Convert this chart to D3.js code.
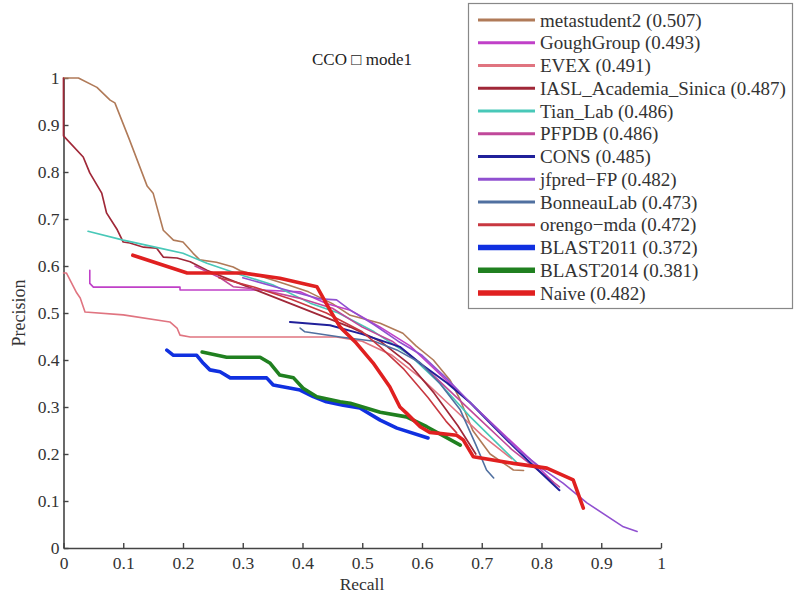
<!DOCTYPE html>
<html><head><meta charset="utf-8">
<script src="https://cdn.jsdelivr.net/npm/d3@7"></script>
<style>body{margin:0;background:#fff}svg{display:block}</style>
</head><body>
<svg id="c" width="794" height="593"></svg>
<script>
const xTicks = [0,0.1,0.2,0.3,0.4,0.5,0.6,0.7,0.8,0.9,1];
const yTicks = [0,0.1,0.2,0.3,0.4,0.5,0.6,0.7,0.8,0.9,1];
const seriesNames = ["metastudent2 (0.507)","GoughGroup (0.493)","EVEX (0.491)","IASL_Academia_Sinica (0.487)","Tian_Lab (0.486)","PFPDB (0.486)","CONS (0.485)","jfpred\u2212FP (0.482)","BonneauLab (0.473)","orengo\u2212mda (0.472)","BLAST2011 (0.372)","BLAST2014 (0.381)","Naive (0.482)"];
const seriesColors = ["#b07a58","#c040c8","#e07480","#a02838","#48c8b8","#c0489a","#20209a","#9050d0","#5070a0","#c83840","#1030e0","#208020","#e02020"];
const seriesWidths = [1.6,1.6,1.6,1.7,1.6,1.6,2,1.6,1.6,1.6,3.6,3.6,3.6];

const metastudent2 = [[0,1],[0.025,1],[0.056,0.98],[0.078,0.953],[0.086,0.947],[0.11,0.87],[0.14,0.77],[0.15,0.755],[0.167,0.676],[0.184,0.655],[0.2,0.651],[0.217,0.627],[0.228,0.613],[0.256,0.608],[0.284,0.598],[0.296,0.59],[0.33,0.578],[0.37,0.562],[0.41,0.545],[0.45,0.52],[0.48,0.495],[0.53,0.478],[0.568,0.457],[0.59,0.43],[0.619,0.40],[0.647,0.357],[0.664,0.315],[0.685,0.25],[0.714,0.20],[0.753,0.166],[0.77,0.165]];
const goughGroup = [[0.044,0.591],[0.044,0.563],[0.05,0.555],[0.195,0.555],[0.195,0.549],[0.33,0.549],[0.396,0.545],[0.44,0.52],[0.48,0.506],[0.53,0.47],[0.58,0.43],[0.63,0.37],[0.68,0.31],[0.73,0.25],[0.78,0.19],[0.82,0.14]];
const evex = [[0,0.585],[0.005,0.585],[0.022,0.543],[0.028,0.532],[0.036,0.502],[0.1,0.496],[0.178,0.481],[0.19,0.468],[0.195,0.453],[0.212,0.449],[0.457,0.449],[0.5,0.44],[0.55,0.41],[0.6,0.36],[0.65,0.3],[0.7,0.24],[0.75,0.19]];
const iasl = [[0,1],[0,0.877],[0.033,0.832],[0.044,0.798],[0.064,0.755],[0.072,0.713],[0.09,0.677],[0.1,0.651],[0.111,0.649],[0.134,0.64],[0.156,0.638],[0.167,0.619],[0.19,0.617],[0.212,0.609],[0.24,0.591],[0.28,0.57],[0.33,0.545],[0.38,0.52],[0.43,0.495],[0.48,0.47],[0.53,0.44],[0.58,0.39],[0.62,0.33],[0.66,0.26],[0.69,0.2]];
const tianLab = [[0.041,0.674],[0.1,0.655],[0.161,0.638],[0.2,0.627],[0.24,0.606],[0.3,0.58],[0.35,0.56],[0.413,0.521],[0.46,0.5],[0.52,0.46],[0.58,0.41],[0.63,0.35],[0.68,0.28],[0.72,0.23],[0.76,0.18]];
const pfpdb = [[0.22,0.6],[0.262,0.575],[0.284,0.556],[0.33,0.55],[0.4,0.53],[0.45,0.51],[0.5,0.47],[0.55,0.44],[0.6,0.39],[0.65,0.33],[0.7,0.27],[0.75,0.21],[0.8,0.16],[0.83,0.13]];
const cons = [[0.379,0.481],[0.446,0.474],[0.5,0.455],[0.563,0.428],[0.6,0.39],[0.642,0.351],[0.68,0.31],[0.714,0.266],[0.75,0.22],[0.78,0.183],[0.83,0.123]];
const jfpred = [[0.3,0.575],[0.37,0.55],[0.43,0.53],[0.457,0.528],[0.48,0.506],[0.52,0.475],[0.56,0.44],[0.6,0.41],[0.642,0.36],[0.68,0.31],[0.72,0.26],[0.76,0.21],[0.8,0.17],[0.836,0.138],[0.876,0.096],[0.937,0.045],[0.96,0.035]];
const bonneauLab = [[0.396,0.468],[0.404,0.46],[0.463,0.449],[0.52,0.44],[0.56,0.42],[0.597,0.394],[0.63,0.35],[0.664,0.294],[0.69,0.22],[0.708,0.166],[0.72,0.149]];
const orengo = [[0.26,0.575],[0.32,0.555],[0.38,0.53],[0.44,0.50],[0.5,0.46],[0.53,0.428],[0.57,0.38],[0.61,0.32],[0.64,0.27],[0.658,0.245]];
const blast2011 = [[0.173,0.421],[0.184,0.41],[0.223,0.41],[0.234,0.393],[0.245,0.379],[0.262,0.375],[0.279,0.362],[0.34,0.362],[0.351,0.347],[0.396,0.336],[0.418,0.322],[0.44,0.311],[0.468,0.304],[0.496,0.298],[0.53,0.272],[0.558,0.255],[0.61,0.234]];
const blast2014 = [[0.232,0.417],[0.273,0.406],[0.329,0.406],[0.346,0.393],[0.362,0.368],[0.385,0.362],[0.401,0.34],[0.424,0.322],[0.463,0.311],[0.48,0.308],[0.53,0.289],[0.574,0.279],[0.608,0.258],[0.664,0.219]];
const naive = [[0.116,0.623],[0.207,0.585],[0.3,0.585],[0.362,0.574],[0.424,0.556],[0.446,0.506],[0.463,0.47],[0.49,0.436],[0.518,0.394],[0.546,0.343],[0.563,0.30],[0.574,0.287],[0.597,0.258],[0.613,0.246],[0.658,0.24],[0.669,0.23],[0.686,0.194],[0.753,0.18],[0.809,0.17],[0.853,0.145],[0.87,0.085]];

const seriesData = [metastudent2,goughGroup,evex,iasl,tianLab,pfpdb,cons,jfpred,bonneauLab,orengo,blast2011,blast2014,naive];

const svg = d3.select("#c");
const font = "Liberation Serif, Times New Roman, serif";
const x = d3.scaleLinear().domain([0,1]).range([63.5,661]);
const y = d3.scaleLinear().domain([0,1]).range([548,78]);

// title
svg.append("text").attr("x",362).attr("y",65).attr("text-anchor","middle")
  .style("font-family",font).style("font-size","17px").attr("fill","#222").text("CCO \u25A1 mode1");

// axes
const xAxis = d3.axisBottom(x).tickValues(xTicks).tickSizeInner(-5).tickSizeOuter(0).tickPadding(9).tickFormat(d=>d3.format("~g")(d));
const yAxis = d3.axisLeft(y).tickValues(yTicks).tickSizeInner(-5).tickSizeOuter(0).tickPadding(4).tickFormat(d=>d3.format("~g")(d));
const gx = svg.append("g").attr("transform","translate(0,548)").call(xAxis);
const gy = svg.append("g").attr("transform","translate(63.5,0)").call(yAxis);
[gx,gy].forEach(g=>{
  g.attr("font-family",null).attr("font-size",null);
  g.select(".domain").attr("stroke","#444").attr("stroke-width",1.6);
  g.selectAll(".tick line").attr("stroke","#444").attr("stroke-width",1.4);
  g.selectAll("text").style("font-family",font).style("font-size","17.5px").attr("fill","#333");
});

svg.append("text").attr("x",362).attr("y",590).attr("text-anchor","middle")
  .style("font-family",font).style("font-size","17.5px").attr("fill","#333").text("Recall");
svg.append("text").attr("transform","translate(25,313) rotate(-90)").attr("text-anchor","middle")
  .style("font-family",font).style("font-size","18px").attr("fill","#333").text("Precision");

// lines
const line = d3.line().x(d=>x(d[0])).y(d=>y(d[1]));
seriesData.forEach((s,i)=>{
  svg.append("path").datum(s).attr("d",line).attr("fill","none")
    .attr("stroke",seriesColors[i]).attr("stroke-width",seriesWidths[i])
    .attr("stroke-linejoin","round").attr("stroke-linecap","round");
});

// legend
const lg = svg.append("g");
lg.append("rect").attr("x",468.5).attr("y",3.5).attr("width",324).attr("height",305)
  .attr("fill","#fff").attr("stroke","#888").attr("stroke-width",1.2);
seriesNames.forEach((n,i)=>{
  const yy = 20 + i*22.75;
  lg.append("line").attr("x1",478).attr("x2",535).attr("y1",yy).attr("y2",yy)
    .attr("stroke",seriesColors[i]).attr("stroke-width",seriesWidths[i]>3?5.5:3);
  lg.append("text").attr("x",540).attr("y",yy+6.5).style("font-family",font)
    .style("font-size","19px").attr("fill","#333").text(n);
});
</script>
</body></html>
